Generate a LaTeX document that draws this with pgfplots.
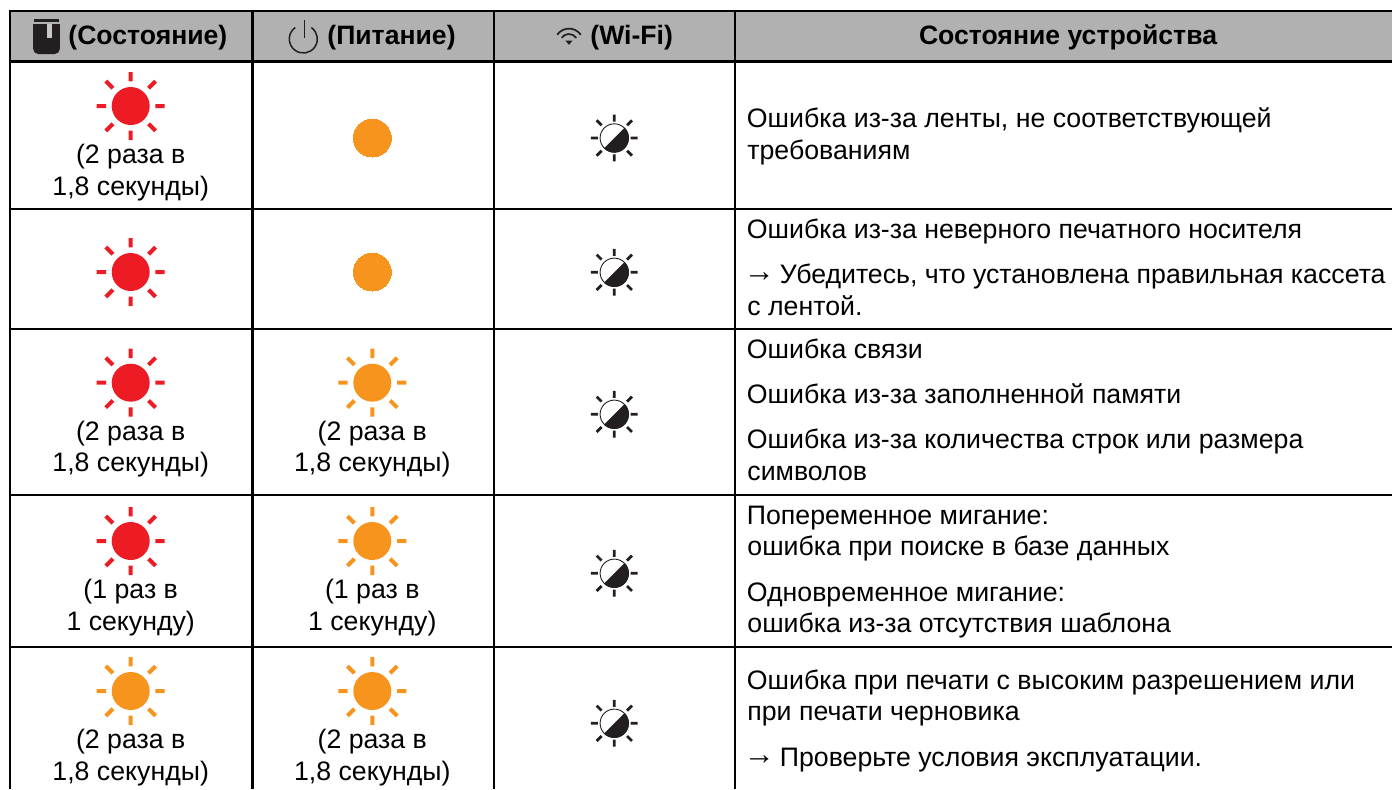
\documentclass[border=0pt]{standalone}
\usepackage{pgfplots}
\pgfplotsset{compat=1.18}
\usepackage{fontspec}
\setmainfont{Liberation Sans}
\definecolor{cred}{HTML}{ED1C24}
\definecolor{corange}{HTML}{F7941E}
\definecolor{cdark}{HTML}{231F20}
\definecolor{chead}{HTML}{B1B1B1}
\newcommand\rayseg[3]{\pgfpathmoveto{\pgfpointpolar{#1}{#2}}\pgfpathlineto{\pgfpointpolar{#1}{#3}}}
\pgfdeclareplotmark{sun}{%
  \pgfsetlinewidth{2pt}\pgfsetbuttcap
  \rayseg{0}{12.35pt}{17pt}\rayseg{90}{12.35pt}{17pt}\rayseg{180}{12.35pt}{17pt}\rayseg{270}{12.35pt}{17pt}%
  \rayseg{45}{12.6pt}{17.6pt}\rayseg{135}{12.6pt}{17.6pt}\rayseg{225}{12.6pt}{17.6pt}\rayseg{315}{12.6pt}{17.6pt}%
  \pgfusepathqstroke
  \pgfpathcircle{\pgfpointorigin}{9.5pt}\pgfusepathqfill}
\pgfdeclareplotmark{halfsun}{%
  \pgfsetcolor{cdark}\pgfsetlinewidth{1.4pt}\pgfsetbuttcap
  \rayseg{0}{8.2pt}{11.7pt}\rayseg{90}{8.2pt}{11.7pt}\rayseg{180}{8.2pt}{11.7pt}\rayseg{270}{8.2pt}{11.7pt}%
  \rayseg{45}{9pt}{12.5pt}\rayseg{135}{9pt}{12.5pt}\rayseg{225}{9pt}{12.5pt}\rayseg{315}{9pt}{12.5pt}%
  \pgfusepathqstroke
  \pgfsetlinewidth{0.45pt}
  \pgfpathcircle{\pgfpointorigin}{7.1pt}\pgfusepathqstroke
  \pgfpathmoveto{\pgfpointpolar{45}{7.3pt}}
  \pgfpatharc{45}{-135}{7.3pt}\pgfpathclose\pgfusepathqfill}
\pgfdeclareplotmark{ink}{%
  \pgfsetcolor{cdark}
  \pgfpathrectangle{\pgfpoint{-6.25pt}{6.9pt}}{\pgfpoint{12.5pt}{1.7pt}}\pgfusepathqfill
  \pgfpathmoveto{\pgfpoint{-6.65pt}{6pt}}
  \pgfpathlineto{\pgfpoint{-6.65pt}{-6.5pt}}
  \pgfpatharc{180}{270}{2.5pt}
  \pgfpathlineto{\pgfpoint{4.15pt}{-9pt}}
  \pgfpatharc{270}{360}{2.5pt}
  \pgfpathlineto{\pgfpoint{6.65pt}{6pt}}
  \pgfpathclose\pgfusepathqfill
  \pgfsetfillcolor{chead!70!white}
  \pgfpathrectangle{\pgfpoint{0.1pt}{-1pt}}{\pgfpoint{2.8pt}{7pt}}\pgfusepathqfill}
\pgfdeclareplotmark{power}{%
  \pgfsetcolor{cdark}\pgfsetlinewidth{0.75pt}\pgfsetbuttcap
  \pgfpathmoveto{\pgfpointpolar{55}{7pt}}
  \pgfpatharc{55}{-235}{7pt}\pgfusepathqstroke
  \pgfsetlinewidth{0.9pt}
  \pgfpathmoveto{\pgfpoint{0.6pt}{9.5pt}}\pgfpathlineto{\pgfpoint{0.6pt}{0.5pt}}\pgfusepathqstroke}
\pgfdeclareplotmark{wifi}{%
  \pgfsetcolor{cdark}\pgfsetlinewidth{0.85pt}\pgfsetbuttcap
  \pgfpathmoveto{\pgfpointpolar{35}{7.2pt}}\pgfpatharc{35}{145}{7.2pt}\pgfusepathqstroke
  \pgfpathmoveto{\pgfpointpolar{35}{4.5pt}}\pgfpatharc{35}{145}{4.5pt}\pgfusepathqstroke
  \pgfpathmoveto{\pgfpoint{-1.8pt}{1.2pt}}\pgfpathlineto{\pgfpoint{1.8pt}{1.2pt}}\pgfpathlineto{\pgfpoint{0pt}{-0.9pt}}\pgfpathclose\pgfusepathqfill}
\newcommand\bodyfont{\fontsize{13.35}{15}\selectfont}
\newcommand\headfont{\fontsize{13.3}{15}\selectfont\bfseries}
\newcommand\arrowfont{\fontsize{15.5}{15}\selectfont}
\begin{document}
\begin{tikzpicture}
\begin{axis}[
  scale only axis, width=696pt, height=394.5pt, at={(0,0)},
  xmin=0, xmax=1392, ymin=0, ymax=789, y dir=reverse, hide axis,
]
% header band
\addplot [fill=chead, draw=none, forget plot] coordinates {(10,11) (1392,11) (1392,61) (10,61)} --cycle;
% grid lines
\addplot [black, line width=1.15pt, forget plot] coordinates {(9,11) (1392,11)};
\addplot [black, line width=1.15pt, forget plot] coordinates {(9,61.5) (1392,61.5)};
\addplot [black, line width=1.15pt, forget plot] coordinates {(9,209) (1392,209)};
\addplot [black, line width=1.15pt, forget plot] coordinates {(9,329) (1392,329)};
\addplot [black, line width=1.15pt, forget plot] coordinates {(9,495) (1392,495)};
\addplot [black, line width=1.15pt, forget plot] coordinates {(9,646.7) (1392,646.7)};
\addplot [black, line width=1.15pt, forget plot] coordinates {(10.3,10.5) (10.3,789)};
\addplot [black, line width=1.15pt, forget plot] coordinates {(252.5,10.5) (252.5,789)};
\addplot [black, line width=1.15pt, forget plot] coordinates {(493.7,10.5) (493.7,789)};
\addplot [black, line width=1.15pt, forget plot] coordinates {(735.2,10.5) (735.2,789)};
% header icons
\addplot [only marks, mark=ink, forget plot] coordinates {(46.5,36)};
\addplot [only marks, mark=power, forget plot] coordinates {(303.3,39)};
\addplot [only marks, mark=wifi, forget plot] coordinates {(569,43)};
% blinking red
\addplot [only marks, mark=sun, mark options={draw=cred, fill=cred}, forget plot] coordinates {(130.7,106) (130.7,272) (130.7,382.7) (130.7,541)};
% blinking orange
\addplot [only marks, mark=sun, mark options={draw=corange, fill=corange}, forget plot] coordinates {(372.3,382.7) (372.3,541) (130.7,691) (372.3,691)};
% steady orange
\addplot [only marks, mark=*, mark size=9.5pt, mark options={draw=corange, fill=corange, line width=0pt}, forget plot] coordinates {(372.3,138) (372.3,272)};
% wifi half
\addplot [only marks, mark=halfsun, forget plot] coordinates {(614.3,138) (614.3,272.3) (614.3,414.3) (614.3,573.3) (614.3,723.3)};
% header text
\node [anchor=base west, font=\headfont, inner sep=0pt] at (axis cs:68,44.5) {(Состояние)};
\node [anchor=base west, font=\headfont, inner sep=0pt] at (axis cs:327,44.5) {(Питание)};
\node [anchor=base west, font=\headfont, inner sep=0pt] at (axis cs:590,44.5) {(Wi-Fi)};
\node [anchor=base, font=\headfont, inner sep=0pt] at (axis cs:1068,44.5) {Состояние устройства};
% blink captions
\node [anchor=base, font=\bodyfont, inner sep=0pt] at (axis cs:130.7,163) {(2 раза в};
\node [anchor=base, font=\bodyfont, inner sep=0pt] at (axis cs:130.7,195) {1,8 секунды)};
\node [anchor=base, font=\bodyfont, inner sep=0pt] at (axis cs:130.7,440) {(2 раза в};
\node [anchor=base, font=\bodyfont, inner sep=0pt] at (axis cs:130.7,471.7) {1,8 секунды)};
\node [anchor=base, font=\bodyfont, inner sep=0pt] at (axis cs:372.3,440) {(2 раза в};
\node [anchor=base, font=\bodyfont, inner sep=0pt] at (axis cs:372.3,471.7) {1,8 секунды)};
\node [anchor=base, font=\bodyfont, inner sep=0pt] at (axis cs:130.7,598.3) {(1 раз в};
\node [anchor=base, font=\bodyfont, inner sep=0pt] at (axis cs:130.7,630) {1 секунду)};
\node [anchor=base, font=\bodyfont, inner sep=0pt] at (axis cs:372.3,598.3) {(1 раз в};
\node [anchor=base, font=\bodyfont, inner sep=0pt] at (axis cs:372.3,630) {1 секунду)};
\node [anchor=base, font=\bodyfont, inner sep=0pt] at (axis cs:130.7,748) {(2 раза в};
\node [anchor=base, font=\bodyfont, inner sep=0pt] at (axis cs:130.7,780) {1,8 секунды)};
\node [anchor=base, font=\bodyfont, inner sep=0pt] at (axis cs:372.3,748) {(2 раза в};
\node [anchor=base, font=\bodyfont, inner sep=0pt] at (axis cs:372.3,780) {1,8 секунды)};
% description column
\node [anchor=base west, font=\bodyfont, inner sep=0pt] at (axis cs:746.5,127.3) {Ошибка из-за ленты, не соответствующей};
\node [anchor=base west, font=\bodyfont, inner sep=0pt] at (axis cs:747,159) {требованиям};
\node [anchor=base west, font=\bodyfont, inner sep=0pt] at (axis cs:746.5,238) {Ошибка из-за неверного печатного носителя};
\node [anchor=base west, font=\arrowfont, inner sep=0pt] at (axis cs:743.5,281.5) {→};
\node [anchor=base west, font=\bodyfont, inner sep=0pt] at (axis cs:779.5,283.7) {Убедитесь, что установлена правильная кассета};
\node [anchor=base west, font=\bodyfont, inner sep=0pt] at (axis cs:747,315.5) {с лентой.};
\node [anchor=base west, font=\bodyfont, inner sep=0pt] at (axis cs:746.5,358.7) {Ошибка связи};
\node [anchor=base west, font=\bodyfont, inner sep=0pt] at (axis cs:746.5,403.3) {Ошибка из-за заполненной памяти};
\node [anchor=base west, font=\bodyfont, inner sep=0pt] at (axis cs:746.5,448) {Ошибка из-за количества строк или размера};
\node [anchor=base west, font=\bodyfont, inner sep=0pt] at (axis cs:747,480) {символов};
\node [anchor=base west, font=\bodyfont, inner sep=0pt] at (axis cs:746.5,524) {Попеременное мигание:};
\node [anchor=base west, font=\bodyfont, inner sep=0pt] at (axis cs:747,555.5) {ошибка при поиске в базе данных};
\node [anchor=base west, font=\bodyfont, inner sep=0pt] at (axis cs:746.5,601) {Одновременное мигание:};
\node [anchor=base west, font=\bodyfont, inner sep=0pt] at (axis cs:747,632.5) {ошибка из-за отсутствия шаблона};
\node [anchor=base west, font=\bodyfont, inner sep=0pt] at (axis cs:746.5,689.3) {Ошибка при печати с высоким разрешением или};
\node [anchor=base west, font=\bodyfont, inner sep=0pt] at (axis cs:747,720.7) {при печати черновика};
\node [anchor=base west, font=\arrowfont, inner sep=0pt] at (axis cs:743.5,764) {→};
\node [anchor=base west, font=\bodyfont, inner sep=0pt] at (axis cs:779.5,766) {Проверьте условия эксплуатации.};
\path (axis cs:0,0) rectangle (axis cs:1392,789);
\end{axis}
\end{tikzpicture}
\end{document}
